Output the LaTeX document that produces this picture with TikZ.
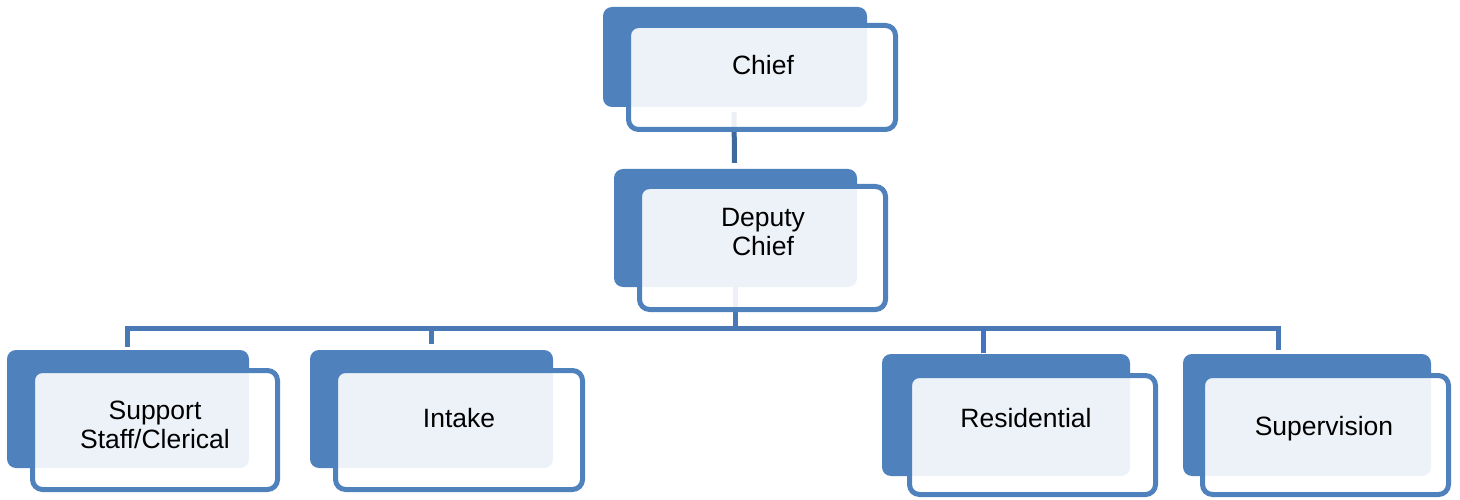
\documentclass[tikz,border=0pt]{standalone}
\usepackage{fontspec}
\setmainfont{Liberation Sans}
\usetikzlibrary{backgrounds,calc}
\definecolor{accent}{HTML}{4F81BD}
\definecolor{linec}{HTML}{4A78B4}
\definecolor{linedark}{HTML}{3E6A9E}
\definecolor{linebright}{HTML}{4472C4}
\tikzset{
  backbox/.style={fill=accent, draw=none, rounded corners=9pt, inner sep=0pt},
  frontbox/.style={draw=accent, line width=5pt, fill=white, fill opacity=0.9, rounded corners=10pt, inner sep=0pt},
  label/.style={font=\fontsize{26.5}{29}\selectfont, align=center, text=black, inner sep=0pt},
  conn/.style={draw=linec, line width=5pt},
}
\newcommand{\orgbox}[9]{%
  % #1 name, #2-#5 back x1,y1,x2,y2, #6-#9 front outer x1,y1,x2,y2
  \path (#2,#3) -- (#4,#5) node[midway, backbox, minimum width={#4-#2}, minimum height={#5-#3}] (#1B) {};
  \path (#6,#7) -- (#8,#9) node[midway, frontbox, minimum width={#8-#6-5}, minimum height={#9-#7-5}] (#1F) {};
}
\begin{document}
\begin{tikzpicture}[x=1pt, y=-1pt]
\useasboundingbox (0,0) rectangle (1460,500);
\orgbox{chief}{603}{7}{867}{107}{626}{23}{898}{132}
\orgbox{deputy}{614}{169}{857}{287}{637}{184}{888}{312}
\orgbox{support}{7}{350}{249}{468}{30}{368}{280}{492}
\orgbox{intake}{310}{350}{553}{468}{333}{368}{585}{492}
\orgbox{resid}{882}{354}{1130}{476}{907}{373}{1158}{497}
\orgbox{superv}{1183}{354}{1431}{476}{1200}{373}{1451}{497}
\node[label] (tchief) at (763,65) {Chief};
\node[label] (tdeputy) at (763,232) {Deputy\\Chief};
\node[label] (tsupport) at (155,425) {Support\\Staff/Clerical};
\node[label] (tintake) at (459,418) {Intake};
\node[label] (tresid) at (1026,418) {Residential};
\node[label] (tsuperv) at (1324,429) {Supervision};
\coordinate (bus) at (735.5,328.5);
\coordinate (d1) at (127,344);
\coordinate (d2) at (431,344);
\coordinate (d3) at (983,353);
\coordinate (d4) at (1278,347);
\begin{scope}[on background layer]
\draw[conn, draw=linedark] ($(chiefB.south)+(-1,5)$) -- ($(deputyB.north)+(-1,-6)$);
\draw[conn] (deputyB.south) -- (bus);
\draw[conn, line cap=rect] (d1) |- (bus) -| (d4);
\draw[conn] (d2) -- (d2 |- bus);
\draw[conn, draw=linebright] (d3) -- (d3 |- bus);
\end{scope}
\end{tikzpicture}
\end{document}
